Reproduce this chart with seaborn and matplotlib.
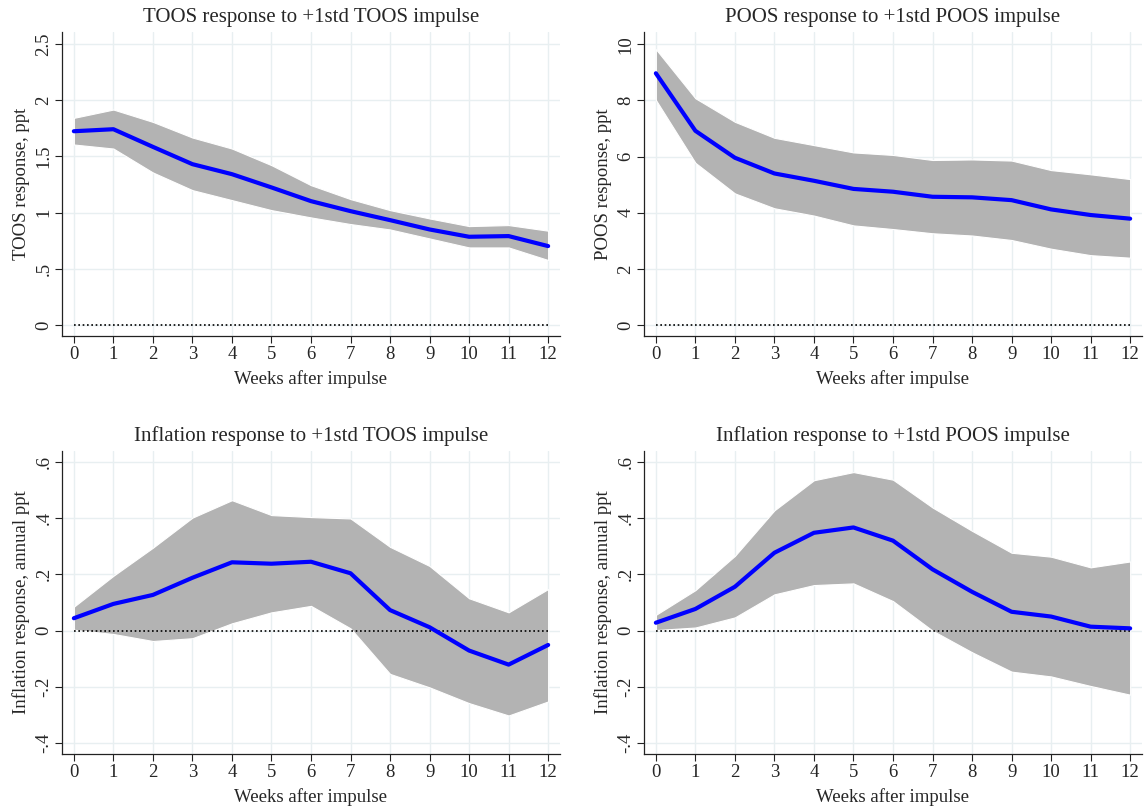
import matplotlib
matplotlib.use("Agg")
import matplotlib.pyplot as plt
import seaborn as sns
import numpy as np
import pandas as pd

weeks = list(range(13))

# TOOS response to TOOS impulse
toos_mid = [1.724, 1.742, 1.585, 1.431, 1.342, 1.224, 1.102, 1.013, 0.933, 0.850, 0.785, 0.791, 0.702]
toos_hi = [1.843, 1.917, 1.807, 1.668, 1.570, 1.422, 1.244, 1.120, 1.022, 0.948, 0.880, 0.889, 0.839]
toos_lo = [1.606, 1.570, 1.357, 1.200, 1.111, 1.022, 0.957, 0.898, 0.850, 0.770, 0.690, 0.690, 0.578]

# POOS response to POOS impulse
poos_mid = [8.97, 6.92, 5.96, 5.40, 5.14, 4.85, 4.75, 4.57, 4.55, 4.45, 4.12, 3.92, 3.79]
poos_hi = [9.83, 8.08, 7.24, 6.67, 6.41, 6.15, 6.06, 5.88, 5.90, 5.86, 5.52, 5.37, 5.20]
poos_lo = [8.02, 5.78, 4.69, 4.16, 3.90, 3.55, 3.42, 3.27, 3.19, 3.03, 2.72, 2.49, 2.40]

# Inflation response to TOOS impulse
inf_toos_mid = [0.044, 0.095, 0.127, 0.188, 0.243, 0.238, 0.245, 0.204, 0.073, 0.012, -0.071, -0.121, -0.051]
inf_toos_hi = [0.085, 0.195, 0.295, 0.402, 0.464, 0.411, 0.404, 0.399, 0.298, 0.230, 0.115, 0.065, 0.148]
inf_toos_lo = [0.003, -0.012, -0.037, -0.027, 0.026, 0.065, 0.088, 0.008, -0.154, -0.202, -0.258, -0.302, -0.252]

# Inflation response to POOS impulse
inf_poos_mid = [0.028, 0.077, 0.156, 0.277, 0.348, 0.367, 0.320, 0.218, 0.138, 0.067, 0.050, 0.014, 0.008]
inf_poos_hi = [0.056, 0.144, 0.266, 0.428, 0.535, 0.564, 0.537, 0.438, 0.355, 0.277, 0.263, 0.225, 0.246]
inf_poos_lo = [0.002, 0.011, 0.047, 0.129, 0.162, 0.168, 0.105, 0.000, -0.077, -0.146, -0.163, -0.197, -0.228]

toos_ticks = [0, 0.5, 1, 1.5, 2, 2.5]
toos_ticklabels = ["0", ".5", "1", "1.5", "2", "2.5"]
poos_ticks = [0, 2, 4, 6, 8, 10]
poos_ticklabels = ["0", "2", "4", "6", "8", "10"]
inf_ticks = [-0.4, -0.2, 0, 0.2, 0.4, 0.6]
inf_ticklabels = ["-.4", "-.2", "0", ".2", ".4", ".6"]

panels = [
    ("TOOS response to +1std TOOS impulse", "TOOS response, ppt",
     toos_mid, toos_lo, toos_hi, toos_ticks, toos_ticklabels, (-0.098, 2.607)),
    ("POOS response to +1std POOS impulse", "POOS response, ppt",
     poos_mid, poos_lo, poos_hi, poos_ticks, poos_ticklabels, (-0.39, 10.44)),
    ("Inflation response to +1std TOOS impulse", "Inflation response, annual ppt",
     inf_toos_mid, inf_toos_lo, inf_toos_hi, inf_ticks, inf_ticklabels, (-0.439, 0.639)),
    ("Inflation response to +1std POOS impulse", "Inflation response, annual ppt",
     inf_poos_mid, inf_poos_lo, inf_poos_hi, inf_ticks, inf_ticklabels, (-0.439, 0.639)),
]

sns.set_style("white")
plt.rcParams['font.family'] = ['Liberation Serif', 'DejaVu Serif']

fig = plt.figure(figsize=(11.45, 8.07), dpi=100)
W, H = 1145, 807
boxes = [(62, 32, 560, 336), (644, 32, 1142, 336),
         (62, 451, 560, 754), (644, 451, 1142, 754)]

for (title, ylabel, mid, lo, hi, ticks, tlabels, ylim), (x0, y0, x1, y1) in zip(panels, boxes):
    ax = fig.add_axes([x0 / W, (H - y1) / H, (x1 - x0) / W, (y1 - y0) / H])
    df = pd.DataFrame({"week": weeks, "mid": mid, "lo": lo, "hi": hi})
    ax.fill_between(df["week"], df["lo"], df["hi"], color="#b3b3b3",
                    edgecolor="white", linewidth=0.8, zorder=2)
    ax.axhline(0, color="black", linestyle=(0, (1, 1.6)), linewidth=1.2, zorder=3,
               xmin=0.3 / 12.6, xmax=12.3 / 12.6)
    sns.lineplot(data=df, x="week", y="mid", ax=ax, color="#0000ff",
                 linewidth=3.0, zorder=4)
    ax.set_xlim(-0.3, 12.3)
    ax.set_ylim(*ylim)
    ax.set_xticks(weeks)
    ax.set_xticklabels([str(w) for w in weeks], fontsize=13.5)
    ax.set_yticks(ticks)
    ax.set_yticklabels(tlabels, fontsize=13.5, rotation=90, va="center")
    ax.grid(True, color="#e8eff1", linewidth=1.0, zorder=0)
    ax.set_axisbelow(True)
    for side in ["top", "right"]:
        ax.spines[side].set_visible(False)
    for side in ["left", "bottom"]:
        ax.spines[side].set_color("#222222")
        ax.spines[side].set_linewidth(0.9)
    ax.tick_params(axis="both", direction="out", length=5, width=0.8,
                   color="#222222", pad=2, left=True, bottom=True)
    ax.set_title(title, fontsize=15, pad=7)
    ax.set_xlabel("Weeks after impulse", fontsize=13.5, labelpad=5)
    ax.set_ylabel(ylabel, fontsize=13.5, labelpad=4)

fig.savefig("out.png", dpi=100)
